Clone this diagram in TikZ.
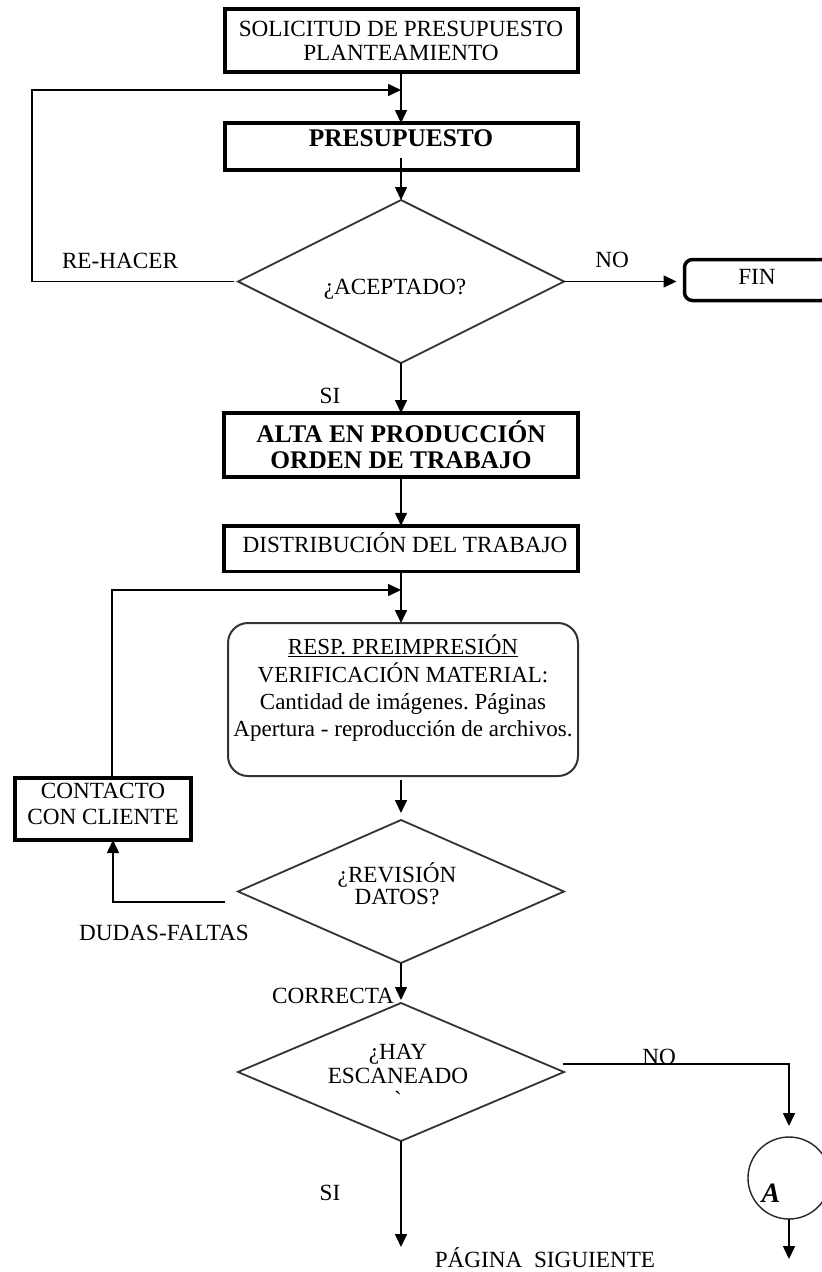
\documentclass[tikz,border=0pt]{standalone}
\usepackage{fontspec}
\setmainfont{Liberation Serif}
\usetikzlibrary{shapes.geometric,arrows.meta}
\frenchspacing

\newcommand\nsz{\fontsize{23.2pt}{24pt}\selectfont}
\newcommand\bsz{\fontsize{25.4pt}{26pt}\selectfont\bfseries}

\begin{document}
\begin{tikzpicture}[x=1pt,y=-1pt,
  every node/.style={inner sep=0pt, outer sep=0pt, font=\nsz},
  procbox/.style={draw=black, line width=4pt, rectangle, align=center},
  roundbox/.style={draw=black!80, line width=2pt, rectangle, rounded corners=20pt, align=center},
  decide/.style={draw=black!80, line width=1.8pt, diamond},
  connector/.style={draw=black!85, line width=1.4pt, circle},
  lbl/.style={align=center},
  arr/.style={draw=black, line width=1.6pt, -{Triangle[length=13pt,width=12pt]}}
]
\fill[white] (0,0) rectangle (822,1272);
\useasboundingbox (0,0) rectangle (822,1272);

% main column of steps
\node[procbox, minimum width=353pt, minimum height=63pt] (b1) at (401,40.5)
  {SOLICITUD DE PRESUPUESTO\\PLANTEAMIENTO};
\node[procbox, minimum width=353pt, minimum height=47pt, font=\bsz] (b2) at (401,146.5)
  {\raisebox{8.5pt}[\height][\depth]{PRESUPUESTO}};
\node[decide, minimum width=326pt, minimum height=163pt] (d1) at (401,281.5) {};
\node[lbl] (t1) at (395,289) {¿ACEPTADO?};
\node[procbox, line width=3.5pt, rounded corners=8pt, minimum width=145pt, minimum height=41pt] (fin) at (757,280)
  {\raisebox{3pt}[\height][\depth]{FIN}};
\node[procbox, minimum width=354pt, minimum height=64pt, font=\bsz] (b3) at (401,445)
  {ALTA EN PRODUCCIÓN\\ORDEN DE TRABAJO};
\node[procbox, line width=3.5pt, minimum width=354pt, minimum height=45.5pt] (b4) at (401,548.5)
  {\raisebox{5.5pt}[\height][\depth]{\hspace*{8pt}DISTRIBUCIÓN DEL TRABAJO}};
\node[roundbox, minimum width=350pt, minimum height=153pt] (r) at (403,699.5)
  {\raisebox{10pt}[\height][\depth]{\fontsize{23pt}{27pt}\selectfont
   \begin{tabular}{@{}c@{}}
   \underline{RESP. PREIMPRESIÓN}\\
   VERIFICACIÓN MATERIAL:\\
   Cantidad de imágenes. Páginas\\
   Apertura - reproducción de archivos.
   \end{tabular}}};
\node[procbox, minimum width=176pt, minimum height=62pt, font=\fontsize{23.2pt}{26pt}\selectfont] (cc) at (103,809)
  {\raisebox{3pt}[\height][\depth]{\begin{tabular}{@{}c@{}}CONTACTO\\CON CLIENTE\end{tabular}}};
\node[decide, minimum width=326pt, minimum height=143pt] (d2) at (401,891.5) {};
\node[lbl, font=\fontsize{23.2pt}{22pt}\selectfont] (t2) at (397,884) {¿REVISIÓN\\DATOS?};
\node[decide, minimum width=326pt, minimum height=138pt] (d3) at (401,1072) {};
\node[lbl] (t3) at (398,1076) {¿HAY\\ESCANEADO\\\textasciigrave};
\node[connector, minimum size=82pt] (ca) at (789,1178) {};
\node (tA) at (771,1193) {\fontsize{28pt}{30pt}\selectfont\bfseries\itshape A};

% branch labels
\node (lrehacer) at (120,261) {RE-HACER};
\node (lno1) at (612,260) {NO};
\node (lsi1) at (330,396) {SI};
\node (ldudas) at (164,933) {DUDAS-FALTAS};
\node (lcorr) at (333,996) {CORRECTA};
\node (lno2) at (659,1057) {NO};
\node (lsi2) at (330,1193) {SI};
\node (lpag) at (545,1258) {PÁGINA\ \ SIGUIENTE};

% junctions and free ends
\coordinate (j1) at (401,90);
\coordinate (j2) at (401,590);
\coordinate (kd) at (225,902);
\coordinate (md) at (563,1064);
\coordinate (pg) at (401,1247);
\coordinate (ae) at (789,1259);

% flow
\draw[arr] (b1.south) -- (b2.north);
\draw[arr] ([yshift=12pt]b2.south) -- (d1.north);
\draw[arr, shorten <=4pt] (d1.west) -- ++(-206,0) |- (j1);
\draw[arr, shorten >=8pt] (d1.east) -- (d1.east -| fin.west);
\draw[arr] (d1.south) -- (b3.north);
\draw[arr] (b3.south) -- (b4.north);
\draw[arr] (b4.south) -- (r.north -| b4.south);
\draw[arr] ([xshift=9pt]cc.north) |- (j2);
\draw[arr, shorten <=4pt, shorten >=7pt] (r.south -| d2.north) -- (d2.north);
\draw[arr] (kd) -| ([xshift=10pt]cc.south);
\draw[arr, shorten >=3pt] (d2.south) -- (d3.north);
\draw[arr, shorten >=11pt] (md) -| (ca.north);
\draw[arr] (d3.south) -- (pg);
\draw[arr] (ca.south) -- (ae);
\end{tikzpicture}
\end{document}
